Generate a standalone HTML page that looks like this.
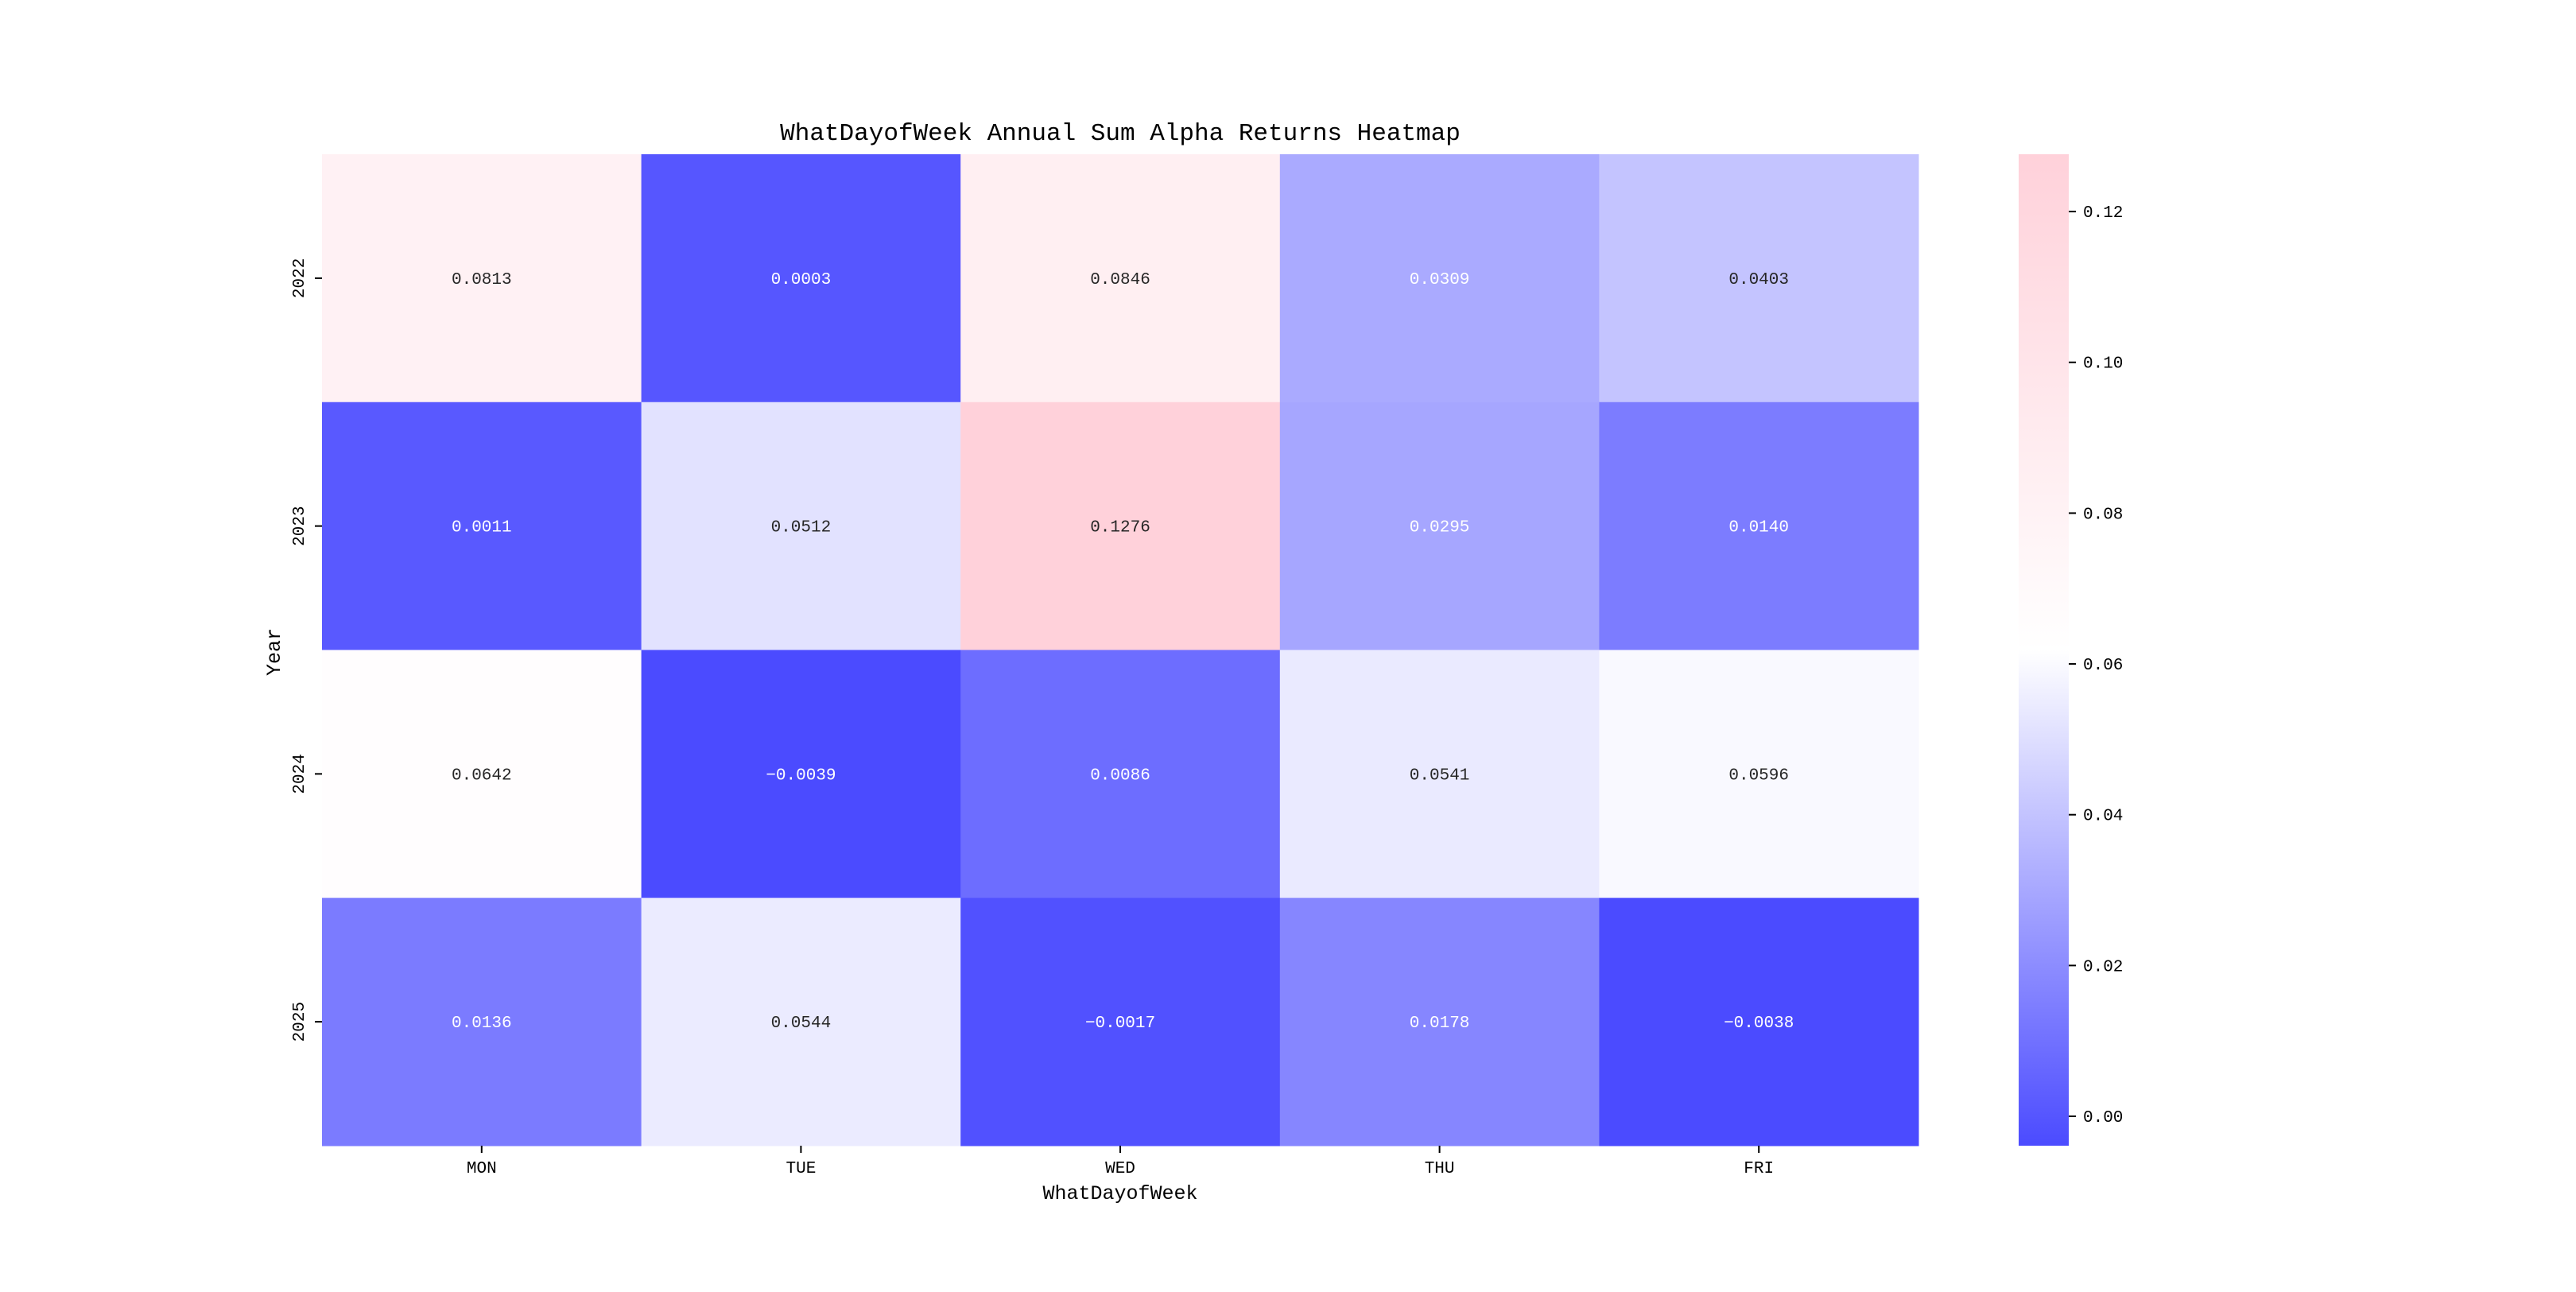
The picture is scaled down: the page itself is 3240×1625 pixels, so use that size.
<!DOCTYPE html>
<html><head><meta charset="utf-8"><style>
html,body{margin:0;padding:0;background:#fff;}
svg text{font-family:"Liberation Mono","DejaVu Sans Mono",monospace;}
</style></head>
<body>
<svg id="chart" width="3240" height="1620" viewBox="0 0 3240 1620" xmlns="http://www.w3.org/2000/svg">
<defs>
<linearGradient id="cbgrad" x1="0" y1="1" x2="0" y2="0">
<stop offset="0" stop-color="rgb(75,75,255)"/>
<stop offset="0.5" stop-color="rgb(255,255,255)"/>
<stop offset="1" stop-color="rgb(255,209,218)"/>
</linearGradient>
</defs>
<text x="1409" y="176" font-size="31" text-anchor="middle">WhatDayofWeek Annual Sum Alpha Returns Heatmap</text>
<g id="cells"></g>
<g id="xticks"></g>
<g id="yticks"></g>
<text x="1409" y="1508" font-size="25" text-anchor="middle">WhatDayofWeek</text>
<text x="0" y="0" font-size="25" text-anchor="middle" transform="translate(352,820) rotate(-90)">Year</text>
<rect x="2539" y="194" width="63" height="1247" fill="url(#cbgrad)"/>
<g id="cbticks"></g>
</svg>
<script>
const days = ["MON","TUE","WED","THU","FRI"];
const years = ["2022","2023","2024","2025"];
const row2022 = [0.0813, 0.0003, 0.0846, 0.0309, 0.0403];
const row2023 = [0.0011, 0.0512, 0.1276, 0.0295, 0.0140];
const row2024 = [0.0642, -0.0039, 0.0086, 0.0541, 0.0596];
const row2025 = [0.0136, 0.0544, -0.0017, 0.0178, -0.0038];
const cbTicks = [0.00, 0.02, 0.04, 0.06, 0.08, 0.10, 0.12];

const NS = "http://www.w3.org/2000/svg";
const rows = [row2022,row2023,row2024,row2025];
const all = rows.flat();
const vmin = Math.min(...all), vmax = Math.max(...all), vmid = (vmin+vmax)/2;
const L=405, R=2413, T=194, B=1441;
const cw=(R-L)/days.length, ch=(B-T)/years.length;
const xPos = i => L + i*cw;
const yPos = j => T + j*ch;
const cbY = v => B - (v - vmin)/(vmax - vmin)*(B-T);
function color(v){
  let r,g,b;
  if(v<=vmid){const t=(v-vmin)/(vmid-vmin); r=75+180*t; g=75+180*t; b=255;}
  else {const t=(v-vmid)/(vmax-vmid); r=255; g=255-46*t; b=255-37*t;}
  return [r,g,b];
}
function lum(c){const f=x=>{x/=255;return x<=0.03928?x/12.92:Math.pow((x+0.055)/1.055,2.4);};return 0.2126*f(c[0])+0.7152*f(c[1])+0.0722*f(c[2]);}
function mk(tag,attrs,parent){const e=document.createElementNS(NS,tag);for(const k in attrs)e.setAttribute(k,attrs[k]);parent.appendChild(e);return e;}
const cells=document.getElementById('cells');
rows.forEach((row,j)=>{
  row.forEach((v,i)=>{
    const c=color(v);
    const r=mk('rect',{x:xPos(i),y:yPos(j),width:cw+0.5,height:ch+0.5,fill:`rgb(${c.map(Math.round).join(',')})`},cells);
    
    
    const t=mk('text',{x:xPos(i)+cw/2,y:yPos(j)+ch/2+7,'font-size':21,'text-anchor':'middle',fill:lum(c)>0.5?'#262626':'#ffffff'},cells);
    t.textContent=v.toFixed(4).replace('-','\u2212');
    
    
  });
});
const xt=document.getElementById('xticks');
days.forEach((d,i)=>{
  const x=xPos(i)+cw/2;
  const l=mk('line',{x1:x,x2:x,y1:B,y2:B+9,stroke:'#000','stroke-width':2},xt);
  
  
  const t=mk('text',{x:x,y:B+34,'font-size':21,'text-anchor':'middle'},xt);
  t.textContent=d;
  
  
});
const yt=document.getElementById('yticks');
years.forEach((y,j)=>{
  const yy=yPos(j)+ch/2;
  const l=mk('line',{x1:L-9,x2:L,y1:yy,y2:yy,stroke:'#000','stroke-width':2},yt);
  
  
  const t=mk('text',{x:0,y:0,'font-size':21,'text-anchor':'middle',transform:`translate(382,${yy}) rotate(-90)`},yt);
  t.textContent=y;
  
  
});
const cb=document.getElementById('cbticks');
cbTicks.forEach(v=>{
  const y=cbY(v);
  const l=mk('line',{x1:2602,x2:2611,y1:y,y2:y,stroke:'#000','stroke-width':2},cb);
  
  
  const t=mk('text',{x:2620,y:y+7,'font-size':21},cb);
  t.textContent=v.toFixed(2);
  
  
});
</script>
</body></html>
